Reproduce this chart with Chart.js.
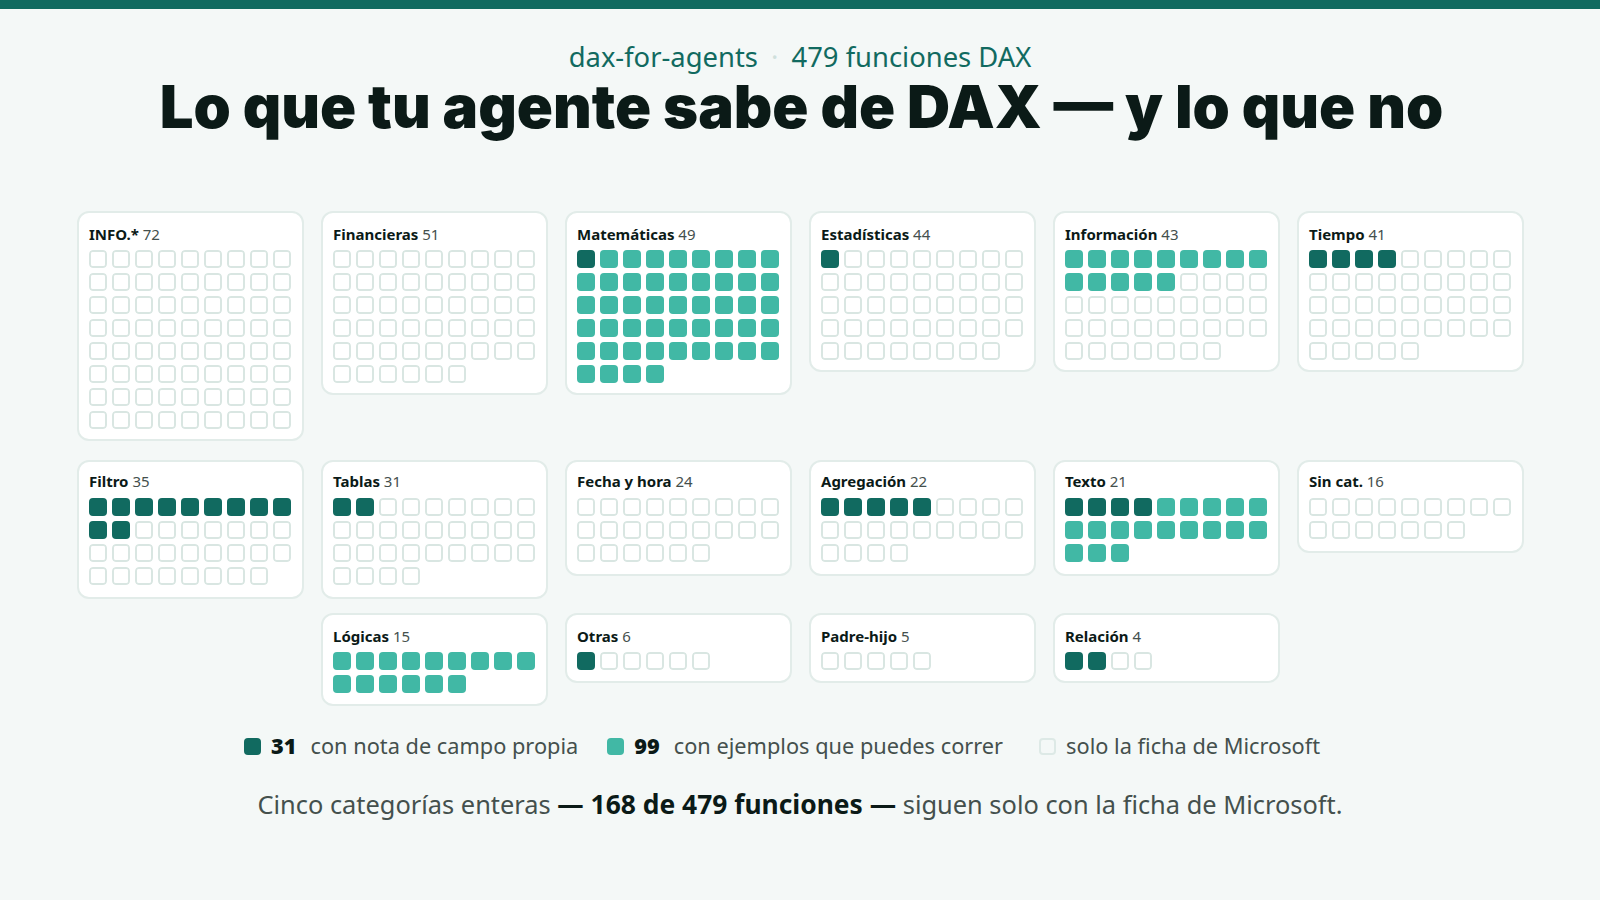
<!DOCTYPE html>
<html lang="es">
<head>
<meta charset="utf-8">
<title>Lo que tu agente sabe de DAX</title>
<script src="https://cdn.jsdelivr.net/npm/chart.js@4/dist/chart.umd.min.js"></script>
<style>
* { box-sizing: border-box; }
html, body { margin: 0; height: 100%; }
body {
    width: 1600px;
    height: 900px;
    overflow: hidden;
    background: #f4f8f7;
    border-top: 9px solid #116a60;
    font-family: "Noto Sans", sans-serif;
    color: #0b1a17;
    text-align: center;
}
.eyebrow { position: absolute; top: 43px; left: 0; width: 100%; font-size: 27.4px; color: #116a60; line-height: 28px; }
.eyebrow span { color: #cfe0dc; margin: 0 6px; }
h1 { position: absolute; top: 75px; left: 1.5px; width: 100%; margin: 0; font-family: Inter, sans-serif; font-size: 59.7px; line-height: 62px; font-weight: 900; white-space: nowrap; }
#grid {
    position: absolute;
    top: 211.2px;
    left: 76.5px;
    width: 1447px;
    display: flex;
    flex-wrap: wrap;
    justify-content: center;
    align-items: flex-start;
    gap: 18.2px 17px;
}
.card {
    width: 227px;
    padding: 11px 10.5px 10.5px;
    background: #fff;
    border: 2px solid #e2ece9;
    border-radius: 12px;
    text-align: left;
}
.card h3 { position: relative; margin: 0 0 4.8px 0; font-size: 15px; line-height: 21px; font-weight: 700; white-space: nowrap; }
.card h3 span { font-weight: 400; color: #44504d; }
.card .plot { position: relative; width: 202px; }
/* second and third row sit a little differently in the reference */
.card:nth-child(n+7) { padding-bottom: 11.5px; }
.card:nth-child(n+7) h3 { top: -1.5px; }
.card:nth-child(n+13) { margin-top: -4px; padding-top: 11.5px; padding-bottom: 10.5px; }
.card:nth-child(n+13) h3 { top: -0.5px; }
.legend { position: absolute; top: 729px; left: 244px; display: flex; align-items: center; font-size: 21.75px; line-height: 34px; color: #44504d; white-space: nowrap; }
.legend i { display: inline-block; width: 17px; height: 17px; border-radius: 4px; margin-right: 10px; }
.legend b { color: #0b1a17; font-weight: 900; margin-right: 14px; }
.legend .item { display: flex; align-items: center; }
.note { position: absolute; top: 786px; left: 0; width: 100%; font-size: 25.4px; line-height: 36px; color: #44504d; }
.note b { color: #0b1a17; font-size: 26.4px; }
</style>
</head>
<body>
<div class="eyebrow">dax-for-agents <span>·</span> 479 funciones DAX</div>
<h1>Lo que tu agente sabe de DAX — y lo que no</h1>
<div id="grid"></div>
<div class="legend">
    <div class="item" style="margin-right:29px"><i style="background:#116a60"></i><b>31</b>con nota de campo propia</div>
    <div class="item" style="margin-right:36px"><i style="background:#41b8a5"></i><b>99</b>con ejemplos que puedes correr</div>
    <div class="item"><i style="background:#f4f8f7;border:2px solid #dde9e6"></i>solo la ficha de Microsoft</div>
</div>
<div class="note">Cinco categorías enteras <b>— 168 de 479 funciones —</b> siguen solo con la ficha de Microsoft.</div>
<script>
// Functions per category, in the order of the cards
const categories = ['INFO.*', 'Financieras', 'Matemáticas', 'Estadísticas', 'Información', 'Tiempo',
    'Filtro', 'Tablas', 'Fecha y hora', 'Agregación', 'Texto', 'Sin cat.',
    'Lógicas', 'Otras', 'Padre-hijo', 'Relación'];
const totals = [72, 51, 49, 44, 43, 41, 35, 31, 24, 22, 21, 16, 15, 6, 5, 4];
const withNotes = [0, 0, 1, 1, 0, 4, 11, 2, 0, 5, 4, 0, 0, 1, 0, 2];
const withExamples = [0, 0, 48, 0, 14, 0, 0, 0, 0, 0, 17, 0, 15, 0, 0, 0];

const perRow = 9;
const colorNote = '#116a60';
const colorExample = '#41b8a5';
const colorEmptyBorder = '#d9e6e2';
const cellShare = 18 / 23;  // cell size against the 23px pitch

// Turns cell numbers [from, to) into floating bars, one unit per cell
function cells(from, to) {
    const out = [];
    for (let i = from; i < to; i++) {
        const row = Math.floor(i / perRow);
        out.push({ x: i % perRow, y: [row, row + cellShare] });
    }
    return out;
}

function cellDataset(data, fill, border, width) {
    return {
        data: data,
        backgroundColor: fill,
        borderColor: border,
        borderWidth: width,
        borderSkipped: false,
        borderRadius: 4,
        grouped: false,
        barPercentage: cellShare,
        categoryPercentage: 1
    };
}

const grid = document.getElementById('grid');

categories.forEach(function(name, k) {
    const total = totals[k];
    const notes = withNotes[k];
    const examples = withExamples[k];
    const rows = Math.ceil(total / perRow);

    const card = document.createElement('div');
    card.className = 'card';
    const title = document.createElement('h3');
    title.innerHTML = name + ' <span>' + total + '</span>';
    const plot = document.createElement('div');
    plot.className = 'plot';
    plot.style.height = (rows * 23 - 5) + 'px';
    const canvas = document.createElement('canvas');
    plot.appendChild(canvas);
    card.appendChild(title);
    card.appendChild(plot);
    grid.appendChild(card);

    new Chart(canvas.getContext('2d'), {
        type: 'bar',
        data: {
            datasets: [
                cellDataset(cells(0, notes), colorNote, colorNote, 0),
                cellDataset(cells(notes, notes + examples), colorExample, colorExample, 0),
                cellDataset(cells(notes + examples, total), '#ffffff', colorEmptyBorder, 2)
            ]
        },
        options: {
            responsive: true,
            maintainAspectRatio: false,
            animation: false,
            layout: { padding: 0 },
            plugins: { legend: { display: false }, tooltip: { enabled: false } },
            scales: {
                x: { type: 'linear', display: false, offset: false, min: -cellShare / 2, max: perRow - 1 + cellShare / 2 },
                y: { type: 'linear', display: false, reverse: true, min: 0, max: rows - 1 + cellShare }
            }
        }
    });
});
</script>
</body>
</html>
